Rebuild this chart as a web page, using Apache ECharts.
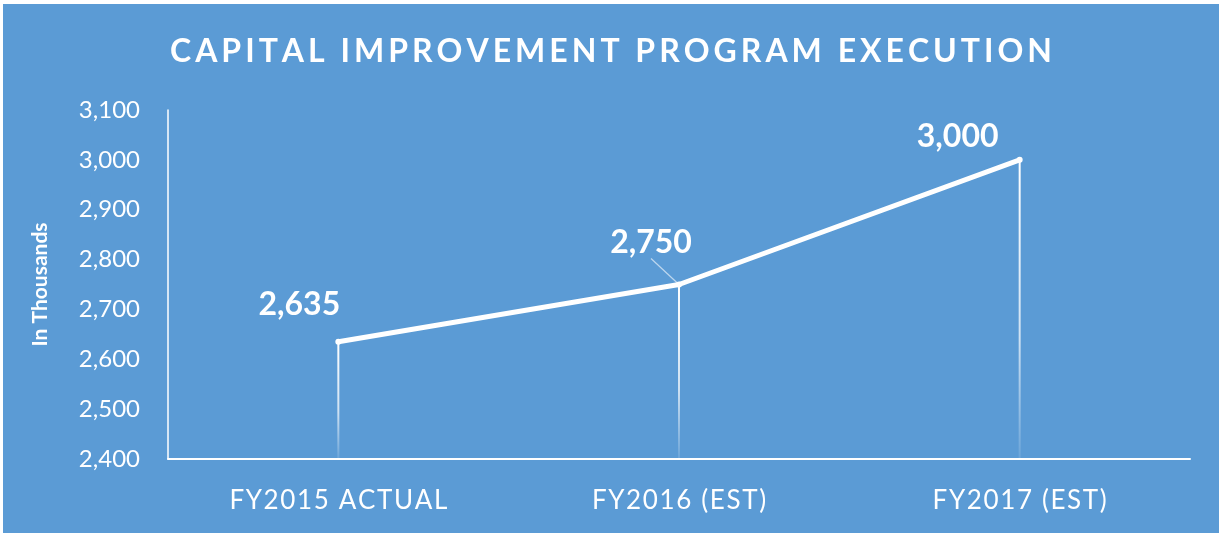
<!DOCTYPE html>
<html>
<head>
<meta charset="utf-8">
<script src="https://cdn.jsdelivr.net/npm/echarts@6/dist/echarts.min.js"></script>
<style>
  html, body { margin: 0; padding: 0; background: #fff; }
  #chart { position: absolute; left: 3px; top: 4px; width: 1216px; height: 529px; }
</style>
</head>
<body>
<div id="chart"></div>
<script>
const categories = ["FY2015 ACTUAL", "FY2016 (EST)", "FY2017 (EST)"];
const values = [2635, 2750, 3000];
const yTicks = { min: 2400, max: 3100, interval: 100 };
const titleText = "CAPITAL IMPROVEMENT PROGRAM EXECUTION";
const yName = "In Thousands";
// where each value label sits relative to its point
const labelOffsets = [[-39, -37], [-28, -42], [-62, -23]];

// spread letters a bit, like the original
const spaced = (s, gap) => s.split("").join(gap);

let myChart = echarts.init(document.getElementById("chart"));
const font = "Lato, 'Open Sans', sans-serif";

let option = {
  backgroundColor: "#5B9BD5",
  animation: false,
  title: {
    text: spaced(titleText, "\u2009"),
    left: "center",
    top: 27,
    textStyle: {
      color: "#fff",
      fontSize: 32,
      fontWeight: "bold",
      fontFamily: font,
    },
  },
  grid: {
    left: 165,
    top: 106,
    right: 29,
    bottom: 74,
  },
  xAxis: {
    type: "category",
    data: categories,
    axisLine: { lineStyle: { color: "#fff", width: 2 } },
    axisTick: { show: false },
    axisLabel: {
      color: "#fff",
      fontSize: 26,
      margin: 29,
      fontFamily: font,
      formatter: (v) => spaced(v, "\u200A"),
    },
  },
  yAxis: {
    type: "value",
    min: yTicks.min,
    max: yTicks.max,
    interval: yTicks.interval,
    name: yName,
    nameLocation: "middle",
    nameGap: 117,
    nameTextStyle: {
      color: "#fff",
      fontSize: 21,
      fontWeight: "bold",
      fontFamily: font,
    },
    axisLine: { show: true, lineStyle: { color: "#fff", width: 1.5 } },
    axisTick: { show: false },
    splitLine: { show: false },
    axisLabel: {
      color: "#fff",
      fontSize: 24,
      margin: 28,
      fontFamily: font,
      formatter: (v) => v.toLocaleString("en-US"),
    },
  },
  series: [
    {
      type: "bar",
      barWidth: 2,
      silent: true,
      data: values,
      itemStyle: {
        color: new echarts.graphic.LinearGradient(0, 0, 0, 1, [
          { offset: 0, color: "rgba(255,255,255,1)" },
          { offset: 0.6, color: "rgba(255,255,255,0.7)" },
          { offset: 1, color: "rgba(255,255,255,0.1)" },
        ]),
      },
    },
    {
      type: "line",
      data: values.map((v, i) => ({
        value: v,
        labelLine: {
          show: i === 1,
          lineStyle: { color: "rgba(255,255,255,0.6)", width: 1.2 },
        },
      })),
      symbol: "circle",
      symbolSize: 6,
      lineStyle: { color: "#fff", width: 5 },
      itemStyle: { color: "#fff" },
      label: {
        show: true,
        position: "inside",
        color: "#fff",
        fontSize: 32,
        fontWeight: "bold",
        fontFamily: font,
        formatter: (p) => p.value.toLocaleString("en-US"),
      },
      labelLayout: (params) => {
        const [dx, dy] = labelOffsets[params.dataIndex];
        const out = { dx: dx, dy: dy };
        if (params.dataIndex === 1) {
          const l = params.labelRect;
          const r = params.rect;
          const px = r.x + r.width / 2;
          const py = r.y + r.height / 2;
          out.labelLinePoints = [
            [l.x + l.width / 2 + dx, l.y + l.height + dy + 6],
            [px - 2, py - 2],
          ];
        }
        return out;
      },
    },
  ],
};
myChart.setOption(option);
</script>
</body>
</html>
